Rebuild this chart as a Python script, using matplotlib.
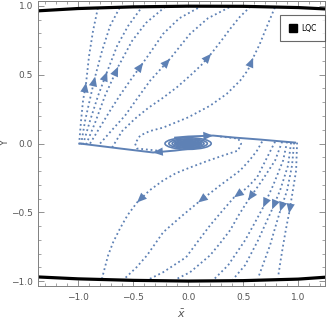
import matplotlib
matplotlib.use("Agg")
import matplotlib.pyplot as plt
from matplotlib.patches import Ellipse
from matplotlib.lines import Line2D
from matplotlib.ticker import MultipleLocator

BLUE = '#5e81b5'
GRAY = '#808080'

# LQC boundary curves
lqc_x = [-1.37, -1.0, -0.5, 0.0, 0.5, 1.0, 1.25]
lqc_top = [0.964, 0.981, 0.993, 0.998, 0.997, 0.988, 0.978]
lqc_bot = [-0.969, -0.983, -0.994, -0.999, -0.996, -0.985, -0.971]

# solid separatrices leaving the focus
sep_right_x = [-0.118, 0.0, 0.227, 0.427, 0.655, 0.973]
sep_right_y = [0.043, 0.051, 0.058, 0.043, 0.029, 0.007]
sep_left_x = [0.109, -0.118, -0.318, -0.618, -0.982]
sep_left_y = [-0.029, -0.051, -0.065, -0.036, 0.0]

# focus rings (semi axes)
ring_a = [0.21, 0.175, 0.145]
ring_b = [0.042, 0.034, 0.028]
core_a, core_b = 0.125, 0.022

# trajectories going up to the top curve
upper_x = [
    [-0.991, -0.973, -0.955, -0.927, -0.900, -0.864, -0.818],
    [-0.973, -0.936, -0.891, -0.845, -0.782, -0.709, -0.618],
    [-0.955, -0.891, -0.818, -0.736, -0.645, -0.545, -0.418],
    [-0.927, -0.845, -0.755, -0.636, -0.509, -0.382, -0.209],
    [-0.891, -0.800, -0.709, -0.620, -0.527, -0.409, -0.310, -0.227, -0.080, 0.109],
    [-0.800, -0.690, -0.573, -0.460, -0.345, -0.164, -0.070, 0.018, 0.180, 0.382],
    [-0.691, -0.600, -0.482, -0.360, -0.227, -0.100, 0.018, 0.120, 0.209, 0.300, 0.382, 0.470, 0.564],
    [-0.282, -0.464, -0.482, -0.436, -0.350, -0.227, 0.000, 0.200, 0.350, 0.473, 0.545, 0.591, 0.650, 0.700, 0.791],
]
upper_y = [
    [-0.007, 0.167, 0.312, 0.442, 0.638, 0.819, 0.993],
    [-0.007, 0.167, 0.326, 0.486, 0.674, 0.855, 0.993],
    [-0.007, 0.167, 0.348, 0.522, 0.710, 0.855, 0.993],
    [-0.007, 0.152, 0.348, 0.558, 0.746, 0.877, 0.993],
    [0.000, 0.120, 0.239, 0.350, 0.457, 0.587, 0.700, 0.797, 0.910, 0.993],
    [0.000, 0.100, 0.203, 0.330, 0.457, 0.616, 0.710, 0.797, 0.910, 0.993],
    [-0.029, 0.090, 0.181, 0.260, 0.333, 0.410, 0.493, 0.570, 0.652, 0.745, 0.833, 0.920, 0.993],
    [-0.051, -0.036, 0.000, 0.058, 0.090, 0.116, 0.190, 0.275, 0.360, 0.457, 0.535, 0.623, 0.720, 0.819, 0.993],
]
upper_arrow = [3, 3, 3, 3, 5, 5, 8, 11]

# trajectories going down to the bottom curve
lower_x = [
    [0.291, 0.455, 0.482, 0.455, 0.318, 0.170, 0.018, -0.110, -0.227, -0.350, -0.464, -0.550, -0.618, -0.680, -0.727, -0.782],
    [0.673, 0.627, 0.560, 0.473, 0.291, 0.091, -0.070, -0.227, -0.373, -0.470, -0.573],
    [0.791, 0.727, 0.627, 0.530, 0.418, 0.310, 0.200, 0.090, -0.018, -0.227, -0.373],
    [0.855, 0.791, 0.673, 0.545, 0.460, 0.382, 0.290, 0.200, 0.018, -0.109],
    [0.900, 0.864, 0.773, 0.682, 0.600, 0.518, 0.364, 0.227],
    [0.936, 0.909, 0.836, 0.764, 0.700, 0.636, 0.518, 0.409],
    [0.964, 0.945, 0.900, 0.836, 0.790, 0.745, 0.690, 0.636],
    [0.991, 0.982, 0.945, 0.918, 0.890, 0.864, 0.840, 0.818],
]
lower_y = [
    [0.051, 0.036, 0.000, -0.051, -0.087, -0.128, -0.174, -0.215, -0.268, -0.340, -0.428, -0.520, -0.616, -0.715, -0.812, -0.978],
    [0.014, -0.051, -0.120, -0.196, -0.304, -0.428, -0.535, -0.645, -0.812, -0.900, -0.978],
    [0.014, -0.087, -0.246, -0.325, -0.391, -0.490, -0.594, -0.710, -0.826, -0.935, -0.993],
    [0.014, -0.123, -0.268, -0.413, -0.520, -0.630, -0.725, -0.812, -0.935, -0.986],
    [0.014, -0.123, -0.304, -0.464, -0.585, -0.703, -0.884, -0.993],
    [0.007, -0.159, -0.341, -0.478, -0.590, -0.703, -0.884, -0.986],
    [0.007, -0.159, -0.341, -0.493, -0.615, -0.739, -0.860, -0.978],
    [0.007, -0.196, -0.377, -0.507, -0.620, -0.739, -0.855, -0.971],
]
lower_arrow = [10, 5, 4, 3, 3, 3, 3, 3]


def add_arrow(ax, xs, ys, i):
    ax.annotate('', xy=(xs[i], ys[i]), xytext=(xs[i - 1], ys[i - 1]),
                arrowprops=dict(arrowstyle='-|>,head_length=0.7,head_width=0.3',
                                color=BLUE, lw=0, shrinkA=0, shrinkB=0,
                                mutation_scale=10))


fig = plt.figure(figsize=(3.27, 3.19), dpi=100)
ax = fig.add_axes([0.116, 0.103, 0.878, 0.894])

for xs, ys, i in zip(upper_x + lower_x, upper_y + lower_y, upper_arrow + lower_arrow):
    ax.plot(xs, ys, color=BLUE, lw=1.3, linestyle=(0, (1, 1.6)))
    add_arrow(ax, xs, ys, i)

ax.plot(sep_right_x, sep_right_y, color=BLUE, lw=1.4)
add_arrow(ax, sep_right_x, sep_right_y, 2)
ax.plot(sep_left_x, sep_left_y, color=BLUE, lw=1.4)
add_arrow(ax, sep_left_x, sep_left_y, 2)

for a, b in zip(ring_a, ring_b):
    ax.add_patch(Ellipse((0, 0), 2 * a, 2 * b, fill=False, edgecolor=BLUE, lw=1.2))
ax.add_patch(Ellipse((0, 0), 2 * core_a, 2 * core_b, facecolor=BLUE, edgecolor=BLUE, lw=1))

ax.plot(lqc_x, lqc_top, color='black', lw=2.3)
ax.plot(lqc_x, lqc_bot, color='black', lw=2.3)

ax.set_xlim(-1.365, 1.245)
ax.set_ylim(-1.036, 1.036)

ax.xaxis.set_major_locator(MultipleLocator(0.5))
ax.yaxis.set_major_locator(MultipleLocator(0.5))
ax.xaxis.set_minor_locator(MultipleLocator(0.1))
ax.yaxis.set_minor_locator(MultipleLocator(0.1))
ax.tick_params(which='both', direction='in', top=True, right=True,
               color=GRAY, labelcolor='#555555', labelsize=6.5)
ax.tick_params(which='major', length=4, width=0.6)
ax.tick_params(which='minor', length=2, width=0.5)
ax.tick_params(axis='x', pad=5)
for s in ax.spines.values():
    s.set_color(GRAY)
    s.set_linewidth(0.7)

ax.set_xlabel(r'$\bar{x}$', color='#555555', fontsize=8, labelpad=4)
ax.set_ylabel('Y', color='#555555', fontsize=7, labelpad=1)

h = Line2D([], [], marker='s', linestyle='', color='black', markersize=6)
leg = ax.legend([h], ['LQC'], loc='upper right', bbox_to_anchor=(1.0, 0.95),
                fontsize=5.5, frameon=True, fancybox=False, borderaxespad=0,
                handletextpad=0.5, handlelength=1.2, borderpad=1.1)
leg.get_frame().set_edgecolor('#444444')
leg.get_frame().set_linewidth(0.8)

plt.savefig('out.png', dpi=100)
plt.close()
